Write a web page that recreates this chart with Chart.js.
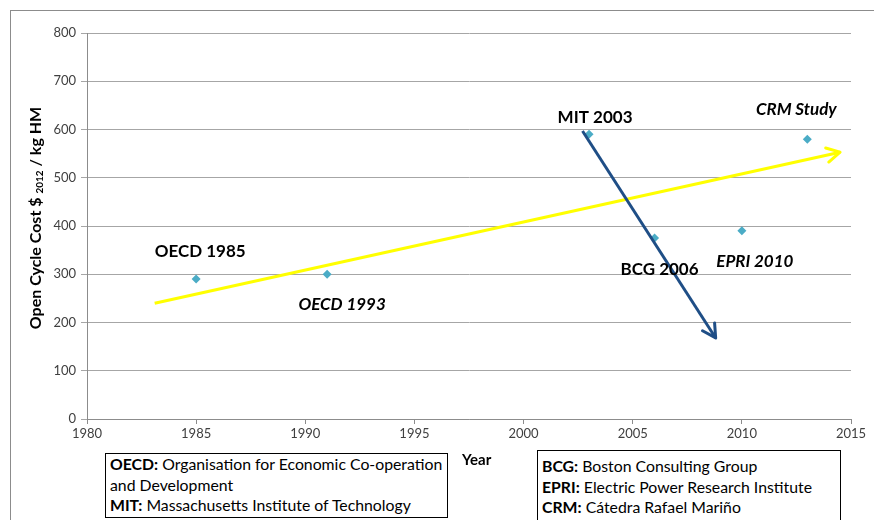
<!DOCTYPE html>
<html>
<head>
<meta charset="utf-8">
<script src="https://cdn.jsdelivr.net/npm/chart.js@4.4.0/dist/chart.umd.min.js"></script>
<style>
  body { margin: 0; background: #fff; }
  #wrap { position: relative; width: 874px; height: 520px; overflow: hidden; font-family: Lato, sans-serif; }
  #frame { position: absolute; left: 10px; top: 10px; width: 870px; height: 520px; border-left: 1px solid #8c8c8c; border-top: 1px solid #8c8c8c; }
  #ytitle { position: absolute; left: 35px; top: 218px; transform: translate(-50%, -50%) rotate(-90deg); white-space: nowrap; font-weight: bold; font-size: 16px; color: #000; }
  #ytitle sub { font-size: 10px; vertical-align: -2px; }
  #xtitle { position: absolute; left: 462px; top: 450px; font-weight: bold; font-size: 15px; color: #000; }
  .box { position: absolute; border: 1px solid #000; background: #fff; font-size: 15.8px; line-height: 20.5px; color: #000; padding: 0 4px; box-sizing: border-box; white-space: nowrap; }
  #box1 { left: 105px; top: 453px; width: 343px; height: 65px; }
  #box2 { left: 537px; top: 450px; width: 304px; height: 80px; padding-top: 5px; }
  .box b { font-weight: bold; }
</style>
</head>
<body>
<div id="wrap">
  <div id="frame"></div>
  <canvas id="chart" width="874" height="520"></canvas>
  <div id="ytitle">Open Cycle Cost $ <sub>2012</sub> / kg HM</div>
  <div id="xtitle">Year</div>
  <div class="box" id="box1"><b>OECD:</b> Organisation for Economic Co-operation<br>and Development<br><b>MIT:</b> Massachusetts Institute of Technology</div>
  <div class="box" id="box2"><b>BCG:</b> Boston Consulting Group<br><b>EPRI:</b> Electric Power Research Institute<br><b>CRM:</b> Cátedra Rafael Mariño</div>
</div>
<script>
// study points
var years = [1985, 1991, 2003, 2006, 2010, 2013];
var costs = [290, 300, 590, 375, 390, 580];
var studyNames = ['OECD 1985', 'OECD 1993', 'MIT 2003', 'BCG 2006', 'EPRI 2010', 'CRM Study'];

// arrows (start, end)
var trendYears = [1983.1, 2014.5];
var trendCosts = [240, 553];
var dropYears = [2002.7, 2008.8];
var dropCosts = [597, 168];

// axis ticks
var xTicks = [1980, 1985, 1990, 1995, 2000, 2005, 2010, 2015];
var yTicks = [0, 100, 200, 300, 400, 500, 600, 700, 800];

// label placement relative to the point (px) and style
var labelShift = [[4, -28], [15, 30], [6, -17], [5, 31], [13, 31], [-11, -30]];
var labelItalic = [false, true, false, false, true, true];

function toXY(xs, ys) {
    var out = [];
    for (let i = 0; i < xs.length; i++) {
        out.push({ x: xs[i], y: ys[i] });
    }
    return out;
}

var studyLabels = {
    id: 'studyLabels',
    afterDatasetsDraw: function (chart) {
        var ctx = chart.ctx;
        var meta = chart.getDatasetMeta(2);
        ctx.save();
        ctx.fillStyle = '#000';
        ctx.textAlign = 'center';
        ctx.textBaseline = 'middle';
        for (let i = 0; i < meta.data.length; i++) {
            var p = meta.data[i];
            ctx.font = (labelItalic[i] ? 'italic ' : '') + 'bold 17px Lato, sans-serif';
            ctx.fillText(studyNames[i], p.x + labelShift[i][0], p.y + labelShift[i][1]);
        }
        ctx.restore();
    }
};

var arrowHeads = {
    id: 'arrowHeads',
    afterDraw: function (chart) {
        var ctx = chart.ctx;
        [0, 1].forEach(function (idx) {
            var ds = chart.data.datasets[idx];
            var pts = chart.getDatasetMeta(idx).data;
            var a = pts[pts.length - 2], b = pts[pts.length - 1];
            var ang = Math.atan2(b.y - a.y, b.x - a.x);
            var len = 15;
            ctx.save();
            ctx.strokeStyle = ds.borderColor;
            ctx.lineWidth = ds.borderWidth;
            ctx.lineCap = 'round';
            ctx.lineJoin = 'round';
            ctx.beginPath();
            ctx.moveTo(b.x - len * Math.cos(ang - 0.5), b.y - len * Math.sin(ang - 0.5));
            ctx.lineTo(b.x, b.y);
            ctx.lineTo(b.x - len * Math.cos(ang + 0.5), b.y - len * Math.sin(ang + 0.5));
            ctx.stroke();
            ctx.restore();
        });
    }
};

var ctx = document.getElementById('chart').getContext('2d');
var myChart = new Chart(ctx, {
    type: 'scatter',
    data: {
        datasets: [{
            label: 'Trend',
            data: toXY(trendYears, trendCosts),
            showLine: true,
            borderColor: '#ffff00',
            borderWidth: 3,
            pointRadius: 0,
            order: 1
        }, {
            label: 'MIT to BCG',
            data: toXY(dropYears, dropCosts),
            showLine: true,
            borderColor: '#1f4e86',
            borderWidth: 3,
            pointRadius: 0,
            order: 0
        }, {
            label: 'Studies',
            data: toXY(years, costs),
            pointStyle: 'rectRot',
            pointRadius: 4.5,
            backgroundColor: '#4bacc6',
            borderColor: '#4bacc6',
            borderWidth: 0,
            order: 2
        }]
    },
    options: {
        responsive: false,
        animation: false,
        layout: { padding: { left: 0, right: 23, top: 33, bottom: 71 } },
        plugins: {
            legend: { display: false },
            tooltip: { enabled: false }
        },
        scales: {
            x: {
                type: 'linear',
                min: xTicks[0],
                max: xTicks[xTicks.length - 1],
                afterBuildTicks: function (axis) {
                    axis.ticks = xTicks.map(function (v) { return { value: v }; });
                },
                afterFit: function (axis) { axis.height = 30; },
                grid: { drawOnChartArea: false, drawTicks: true, tickLength: 5, color: '#8c8c8c' },
                border: { color: '#8c8c8c' },
                ticks: {
                    callback: function (v) { return String(v); },
                    font: { family: 'Lato', size: 13 },
                    color: '#404040',
                    padding: 2,
                    maxRotation: 0
                }
            },
            y: {
                min: yTicks[0],
                max: yTicks[yTicks.length - 1],
                afterBuildTicks: function (axis) {
                    axis.ticks = yTicks.map(function (v) { return { value: v }; });
                },
                afterFit: function (axis) { axis.width = 87; },
                grid: { color: '#a6a6a6', tickLength: 6 },
                border: { color: '#8c8c8c' },
                ticks: {
                    font: { family: 'Lato', size: 13 },
                    color: '#404040',
                    padding: 5
                }
            }
        }
    },
    plugins: [studyLabels, arrowHeads]
});
</script>
</body>
</html>
